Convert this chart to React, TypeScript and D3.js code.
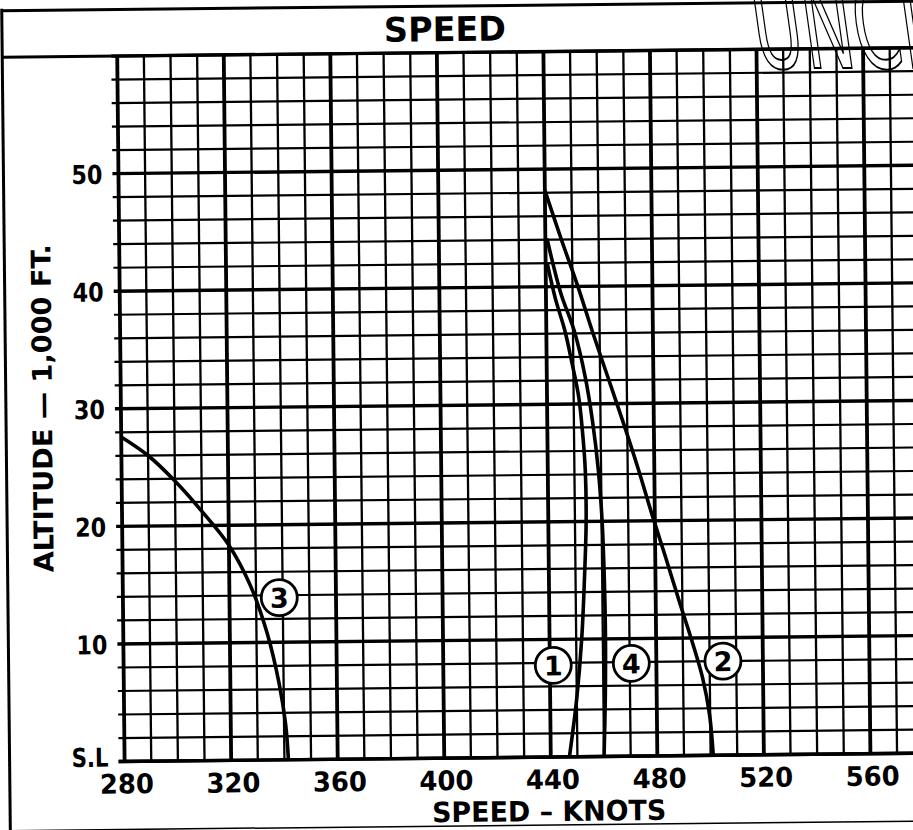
import React from 'react';
import * as d3 from 'd3';

const W = 913;
const H = 830;

// axis ticks
const speedTicks = [280, 320, 360, 400, 440, 480, 520, 560];
const altTicks = [0, 10, 20, 30, 40, 50];
const altTickLabels = ['S.L', '10', '20', '30', '40', '50'];

// curves: [speed (knots), altitude (1,000 ft)]
const curve1: [number, number][] = [
  [440.6, 42], [443.5, 39], [446.9, 36.3], [449.5, 33.5], [451.9, 30.6], [453.3, 27.3],
  [454.1, 24.2], [454.2, 20], [453.5, 15.9], [452.1, 10.1], [450, 5], [447, 0],
];
const curve2: [number, number][] = [
  [440, 48.2], [446, 44], [452, 40], [457.5, 36], [463, 32.2], [468.5, 28.4], [474, 24.4],
  [479, 20.5], [484, 16.8], [489, 13], [493.5, 9.7], [497.3, 6.6], [499.8, 3.4], [501, 0],
];
const curve3: [number, number][] = [
  [280, 27.6], [290, 26], [300, 23.8], [310, 21.2], [320, 18.3], [328, 14.8],
  [334, 10.8], [338.3, 6.5], [340.6, 3], [341.5, 0],
];
const curve4: [number, number][] = [
  [440.6, 44.1], [445.5, 39.5], [450.5, 36.2], [454.5, 32.2], [457, 28.5], [459, 24.3],
  [460.2, 20], [460.8, 15], [461, 10], [460.7, 5], [460, 0],
];
const curves = [curve1, curve2, curve3, curve4];

// circled curve numbers
const labelNames = ['1', '2', '3', '4'];
const labelSpeed = [441.3, 505, 338.7, 470.6];
const labelAlt = [7.8, 8, 13.8, 7.9];

const FONT = "'DejaVu Sans', 'Liberation Sans', sans-serif";
const COND = "'DejaVu Sans Condensed', 'Liberation Sans Narrow', 'DejaVu Sans', sans-serif";

export default function App() {
  const x = d3.scaleLinear().domain([280, 600]).range([121, 973.4]);
  const y = d3.scaleLinear().domain([0, 60]).range([758, 52.5]);

  const line = d3.line<[number, number]>()
    .x(d => x(d[0]))
    .y(d => y(d[1]))
    .curve(d3.curveCatmullRom.alpha(0.5));

  const vLines = d3.range(280, 601, 10);
  const hLines = d3.range(0, 61, 2);
  const x0 = x(280);
  const x1 = x(600);

  return (
    <svg width={W} height={H} style={{ position: 'absolute', left: 0, top: 0, background: '#fff' }}>
      <rect width={W} height={H} fill="#fff" />
      <g transform="rotate(-0.6 456 415)">
        {/* title box + frame */}
        <line x1={6} x2={W + 30} y1={6} y2={6} stroke="#000" strokeWidth={3} />
        <line x1={6} x2={6} y1={4} y2={H + 10} stroke="#000" strokeWidth={3} />
        <line x1={6} x2={W + 30} y1={826} y2={826} stroke="#000" strokeWidth={1.5} />
        <line x1={6} x2={W + 30} y1={y(60)} y2={y(60)} stroke="#000" strokeWidth={3} />
        <text x={449} y={41} fontFamily={COND} fontWeight="bold" fontSize={34}
          textAnchor="middle" textLength={122} lengthAdjust="spacingAndGlyphs">SPEED</text>

        {/* grid */}
        {hLines.map(a => (
          <line key={'h' + a} x1={x0 - 6} x2={x1} y1={y(a)} y2={y(a)} stroke="#000"
            strokeWidth={a % 10 === 0 ? 3.4 : 2.2} />
        ))}
        {vLines.map(s => (
          <line key={'v' + s} x1={x(s)} x2={x(s)} y1={y(60)} y2={y(0)} stroke="#000"
            strokeWidth={s % 40 === 0 ? 3.8 : 2.3} />
        ))}
        <line x1={x0 - 6} x2={x1} y1={y(0)} y2={y(0)} stroke="#000" strokeWidth={3.4} />

        {/* curves */}
        {curves.map((c, i) => (
          <path key={'c' + i} d={line(c) || ''} fill="none" stroke="#000" strokeWidth={3.6}
            strokeLinejoin="round" />
        ))}

        {/* circled numbers */}
        {labelNames.map((n, i) => (
          <g key={'l' + n} transform={`translate(${x(labelSpeed[i])},${y(labelAlt[i])})`}>
            <circle r={18} fill="#fff" stroke="#000" strokeWidth={2.8} />
            <text y={10} textAnchor="middle" fontFamily={FONT} fontWeight="bold" fontSize={27}>{n}</text>
          </g>
        ))}

        {/* y ticks */}
        {altTicks.map((a, i) => (
          <text key={'yt' + a} x={105} y={y(a) + (a === 0 ? 5 : 10)} textAnchor="end"
            fontFamily={FONT} fontWeight="bold" fontSize={26}
            textLength={a === 0 ? 37 : 31} lengthAdjust="spacingAndGlyphs">{altTickLabels[i]}</text>
        ))}
        {/* x ticks */}
        {speedTicks.map(s => (
          <text key={'xt' + s} x={x(s) + 2} y={790} textAnchor="middle"
            fontFamily={FONT} fontWeight="bold" fontSize={27}
            textLength={54} lengthAdjust="spacingAndGlyphs">{s}</text>
        ))}

        {/* axis titles */}
        <text x={545} y={822} textAnchor="middle" fontFamily={COND} fontWeight="bold" fontSize={28}
          textLength={234} lengthAdjust="spacingAndGlyphs">SPEED – KNOTS</text>
        <text transform="translate(52,404) rotate(-90)" textAnchor="middle" fontFamily={COND}
          fontWeight="bold" fontSize={27} textLength={328} lengthAdjust="spacingAndGlyphs">
          ALTITUDE — 1,000 FT.
        </text>
      </g>

      {/* classification stamp, cut by the sheet edge as on the original */}
      <g transform="translate(758,68) skewX(8)">
        <text x={0} y={0} fontFamily={COND} fontSize={122} fill="none" stroke="#000" strokeWidth={2}
          textLength={186} lengthAdjust="spacingAndGlyphs">UNCL</text>
      </g>
    </svg>
  );
}
